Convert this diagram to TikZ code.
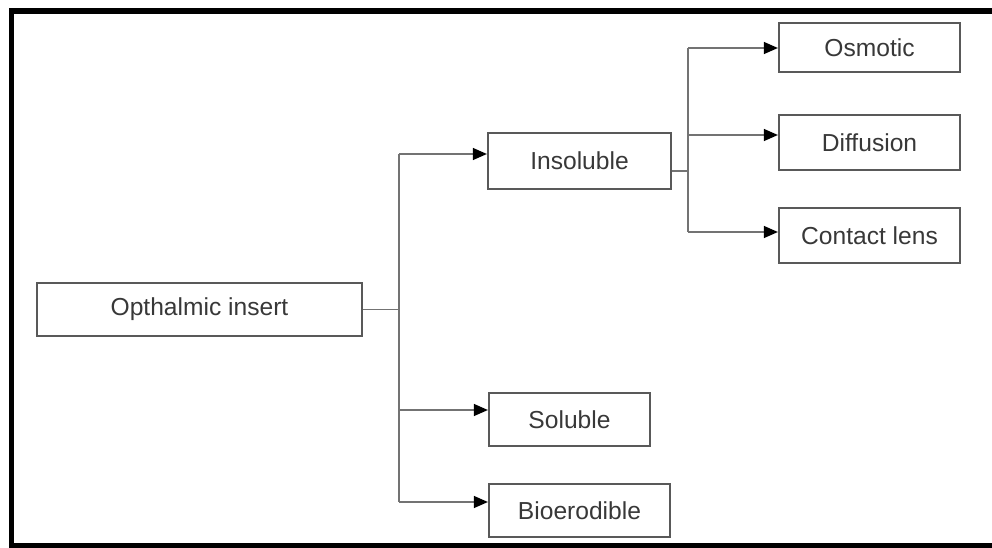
\documentclass[tikz,border=0pt]{standalone}
\usepackage{fontspec}
\setmainfont{Liberation Sans}
\usepackage{tikz}
\usetikzlibrary{arrows.meta}
\definecolor{boxgray}{rgb}{0.35, 0.35, 0.35}
\definecolor{linegray}{rgb}{0.45, 0.45, 0.45}
\definecolor{textgray}{rgb}{0.22, 0.22, 0.22}
\begin{document}
\begin{tikzpicture}[x=0.02cm,y=-0.02cm]
        \tikzstyle{box}=[draw=boxgray, line width=0.7pt, inner sep=0pt, text=textgray, font=\fontsize{14}{16}\selectfont]
        \tikzstyle{conn}=[draw=linegray, line width=0.75pt]
        \tikzstyle{arr}=[conn, -{Triangle[length=0.28cm,width=0.24cm,color=black]}, shorten >=0.3pt]
        \useasboundingbox (0,0) rectangle (992,548);
        \clip (0,0) rectangle (992,548);
        % frame round the whole chart (right side cut off)
        \draw[line width=0.12cm] (11.5,11) rectangle (1010,545.5);
        % boxes
        \node (opth)[box, minimum width=6.5cm, minimum height=1.06cm] at (199.5,309.5) {Opthalmic insert};
        \node (insol)[box, minimum width=3.66cm, minimum height=1.12cm] at (579.5,161) {Insoluble};
        \node (sol)[box, minimum width=3.22cm, minimum height=1.06cm] at (569.5,419.5) {Soluble};
        \node (bioer)[box, minimum width=3.62cm, minimum height=1.06cm] at (579.5,510.5) {Bioerodible};
        \node (osm)[box, minimum width=3.62cm, minimum height=0.98cm] at (869.5,47.5) {Osmotic};
        \node (diff)[box, minimum width=3.62cm, minimum height=1.1cm] at (869.5,142.5) {Diffusion};
        \node (lens)[box, minimum width=3.62cm, minimum height=1.1cm] at (869.5,235.5) {Contact lens};
        % first branching
        \coordinate (jA) at (399,309.5);
        \coordinate (jA1) at (399,154);
        \coordinate (jA2) at (399,410);
        \coordinate (jA3) at (399,502);
        \draw[conn] (opth.east) -- (jA);
        \draw[conn] (jA1) -- (jA3);
        \draw[arr] (jA1) -- (jA1 -| insol.west);
        \draw[arr] (jA2) -- (jA2 -| sol.west);
        \draw[arr] (jA3) -- (jA3 -| bioer.west);
        % second branching (from insoluble)
        \coordinate (jB) at (688,171);
        \coordinate (jB1) at (688,48);
        \coordinate (jB2) at (688,135);
        \coordinate (jB3) at (688,232);
        \draw[conn] (jB -| insol.east) -- (jB);
        \draw[conn] (jB1) -- (jB3);
        \draw[arr] (jB1) -- (jB1 -| osm.west);
        \draw[arr] (jB2) -- (jB2 -| diff.west);
        \draw[arr] (jB3) -- (jB3 -| lens.west);
\end{tikzpicture}
\end{document}
